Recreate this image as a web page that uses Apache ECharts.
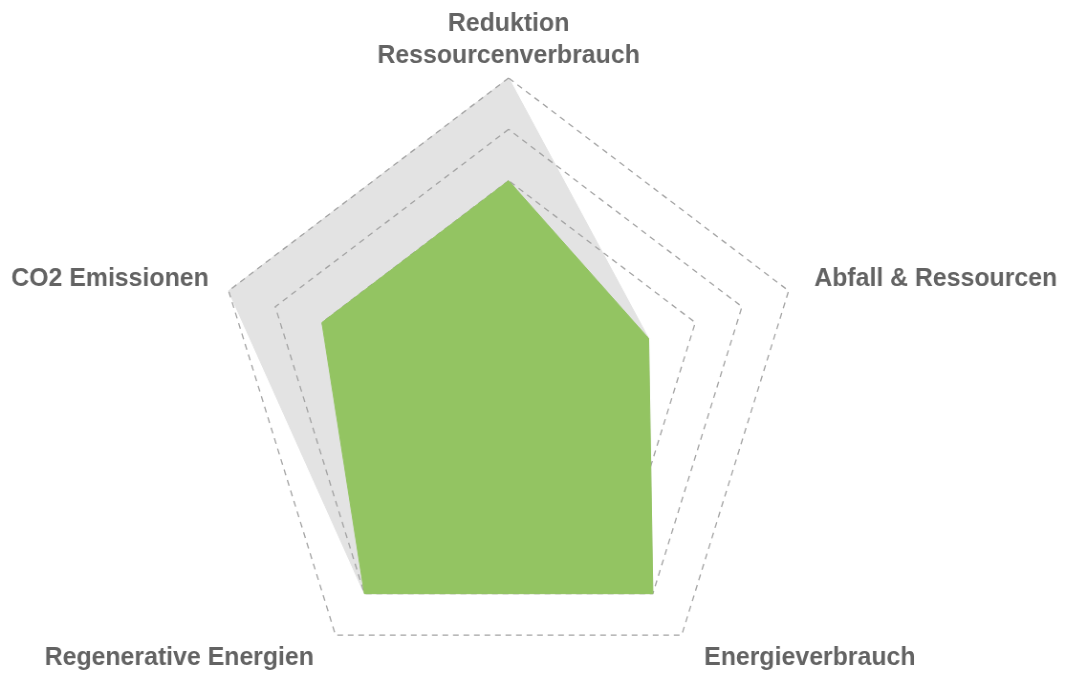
<!DOCTYPE html>
<html>
<head>
<meta charset="utf-8">
<script src="https://cdn.jsdelivr.net/npm/echarts@6/dist/echarts.min.js"></script>
<style>
html,body{margin:0;padding:0;overflow:hidden;background:#ffffff;width:1067px;height:675px}
#chart{width:1116px;height:675px;transform:scaleX(0.956);transform-origin:0 0}
</style>
</head>
<body>
<div id="chart"></div>
<script>
// Data (indicators in ECharts radar order: top, then counter-clockwise)
const indicatorNames = ['Reduktion\nRessourcenverbrauch', 'CO2 Emissionen', 'Regenerative Energien', 'Energieverbrauch', 'Abfall & Ressourcen'];
const scaleMax = 6;
const greyValues = [6, 6, 5, 5, 3];
const greenValues = [4, 4, 5, 5, 3];

// label placement style keys (per indicator)
const labelKeys = ['t', 'l', 'bl', 'br', 'r'];

const FONT = {fontFamily: 'Liberation Sans', fontWeight: 'bold', fontSize: 26, color: '#636363'};

const chart = echarts.init(document.getElementById('chart'), null, {renderer: 'canvas'});
chart.setOption({
  animation: false,
  backgroundColor: '#ffffff',
  radar: {
    z: 1,
    center: [532, 386],
    radius: 308,
    startAngle: 90,
    splitNumber: 6,
    shape: 'polygon',
    nameGap: 6,
    indicator: indicatorNames.map(n => ({name: n, min: 0, max: scaleMax})),
    axisLine: {show: false},
    axisTick: {show: false},
    axisLabel: {show: false},
    splitArea: {show: false},
    splitLine: {lineStyle: {color: '#a3a3a3', width: 1.3, type: [6, 5]}},
    axisName: Object.assign({}, FONT, {
      lineHeight: 32,
      formatter: function (name) {
        const idx = indicatorNames.indexOf(name);
        const key = labelKeys[idx] || 't';
        return name.split('\n').map(s => '{' + key + '|' + s + '}').join('\n');
      },
      rich: {
        t: Object.assign({}, FONT, {lineHeight: 32}),
        l: Object.assign({}, FONT, {padding: [0, 15, 20, 0]}),
        r: Object.assign({}, FONT, {padding: [0, 0, 20, 21]}),
        bl: Object.assign({}, FONT, {padding: [36, 19, 0, 0]}),
        br: Object.assign({}, FONT, {padding: [36, 0, 0, 20]})
      }
    })
  },
  series: [
    {
      type: 'radar', z: 0, symbol: 'none', silent: true,
      lineStyle: {color: '#e3e3e3', width: 1},
      areaStyle: {color: '#e3e3e3', opacity: 1},
      data: [{value: greyValues, name: 'Ziel'}]
    },
    {
      type: 'radar', z: 2, symbol: 'none', silent: true,
      lineStyle: {color: '#93c462', width: 1},
      areaStyle: {color: '#93c462', opacity: 1},
      data: [{value: greenValues, name: 'Ist'}]
    }
  ]
});
</script>
</body>
</html>
